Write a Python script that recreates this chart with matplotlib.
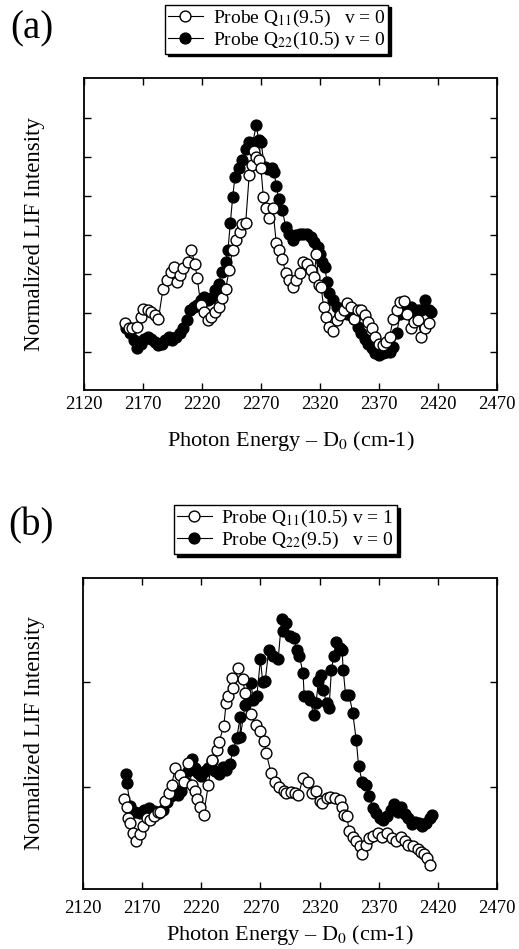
import matplotlib
matplotlib.use("Agg")
import matplotlib.pyplot as plt

plt.rcParams['font.family'] = ['Liberation Serif', 'DejaVu Serif']
plt.rcParams['mathtext.fontset'] = 'stix'

# panel (a): Q11(9.5) v=0 (open) and Q22(10.5) v=0 (filled)
a_open_x = [2155, 2158, 2161, 2165, 2168, 2170, 2174, 2177, 2180, 2183,
            2187, 2190, 2194, 2196, 2199, 2201, 2204, 2208, 2211, 2214,
            2216, 2219, 2222, 2225, 2228, 2231, 2234, 2237, 2240, 2243,
            2246, 2249, 2252, 2254, 2257, 2260, 2262, 2264, 2266, 2268,
            2270, 2272, 2274, 2277, 2280, 2283, 2285, 2288, 2291, 2294,
            2297, 2300, 2303, 2306, 2309, 2312, 2315, 2317, 2319, 2321,
            2323, 2325, 2328, 2331, 2334, 2337, 2340, 2343, 2346, 2349,
            2352, 2355, 2358, 2361, 2364, 2367, 2370, 2373, 2376, 2379,
            2382, 2385, 2388, 2391, 2394, 2397, 2400, 2403, 2406, 2409, 2412]
a_open_y = [1.73, 1.62, 1.60, 1.64, 1.88, 2.09, 2.07, 2.01, 1.94, 1.83,
            2.62, 2.84, 3.05, 3.18, 2.79, 2.97, 3.14, 3.31, 3.61, 3.26,
            2.88, 2.20, 2.03, 1.81, 1.90, 2.03, 2.15, 2.37, 2.60, 3.09,
            3.62, 3.86, 4.08, 4.27, 4.29, 5.53, 5.79, 6.15, 6.00, 5.92,
            5.70, 4.97, 4.68, 4.42, 4.68, 3.78, 3.61, 3.39, 3.01, 2.84,
            2.65, 2.84, 3.01, 3.31, 3.26, 3.09, 2.92, 3.52, 2.71, 2.67,
            2.15, 1.90, 1.64, 1.54, 1.81, 1.94, 2.07, 2.24, 2.15, 1.85,
            2.07, 2.07, 1.94, 1.77, 1.60, 1.38, 1.21, 1.17, 1.26, 1.38,
            1.85, 2.07, 2.28, 2.31, 1.98, 1.60, 1.77, 1.81, 1.38, 1.60, 1.73]

a_fill_x = [2156, 2159, 2162, 2165, 2168, 2171, 2174, 2177, 2180, 2183,
            2186, 2189, 2192, 2195, 2198, 2201, 2204, 2207, 2210, 2213,
            2216, 2219, 2222, 2225, 2228, 2231, 2234, 2237, 2240, 2242,
            2244, 2246, 2248, 2251, 2254, 2257, 2260, 2263, 2266, 2268,
            2270, 2273, 2276, 2279, 2281, 2283, 2285, 2288, 2291, 2294,
            2297, 2300, 2303, 2306, 2309, 2312, 2315, 2318, 2320, 2322,
            2324, 2326, 2328, 2331, 2334, 2337, 2340, 2343, 2346, 2349,
            2352, 2355, 2358, 2361, 2364, 2367, 2370, 2373, 2376, 2379,
            2382, 2385, 2388, 2391, 2394, 2397, 2400, 2403, 2406, 2409,
            2412, 2414]
a_fill_y = [1.60, 1.47, 1.30, 1.09, 1.21, 1.34, 1.38, 1.34, 1.26, 1.17,
            1.21, 1.30, 1.38, 1.30, 1.38, 1.47, 1.60, 1.81, 2.07, 2.15,
            2.20, 2.32, 2.41, 2.32, 2.37, 2.58, 2.75, 3.05, 3.31, 3.61,
            4.29, 4.97, 5.49, 5.70, 5.91, 6.19, 6.38, 6.36, 6.81, 6.43,
            6.38, 5.74, 5.68, 5.70, 5.62, 5.25, 4.93, 4.63, 4.21, 4.03,
            3.86, 3.99, 4.03, 4.03, 4.02, 3.95, 3.82, 3.69, 3.52, 3.31,
            3.18, 2.79, 2.50, 2.32, 2.15, 1.98, 2.03, 1.98, 1.94, 1.85,
            1.64, 1.47, 1.34, 1.21, 1.09, 0.96, 0.91, 0.96, 1.00, 1.00,
            1.13, 1.47, 1.98, 2.07, 2.07, 2.15, 1.98, 2.07, 2.07, 2.32,
            2.07, 2.03]

# panel (b): Q11(10.5) v=1 (open) and Q22(9.5) v=0 (filled)
b_open_x = [2155, 2157, 2158, 2160, 2162, 2165, 2168, 2171, 2174, 2177,
            2180, 2183, 2185, 2189, 2193, 2195, 2198, 2202, 2205, 2209,
            2212, 2215, 2216, 2219, 2222, 2226, 2229, 2233, 2235, 2239,
            2241, 2243, 2246, 2247, 2251, 2255, 2257, 2262, 2266, 2270,
            2273, 2275, 2279, 2282, 2286, 2290, 2292, 2296, 2299, 2302,
            2306, 2310, 2314, 2317, 2320, 2322, 2326, 2329, 2333, 2337,
            2339, 2341, 2343, 2345, 2348, 2351, 2354, 2356, 2359, 2362,
            2365, 2369, 2373, 2377, 2381, 2385, 2389, 2392, 2395, 2399,
            2403, 2406, 2408, 2411, 2413]
b_open_y = [0.88, 0.81, 0.70, 0.65, 0.56, 0.48, 0.55, 0.62, 0.70, 0.68,
            0.72, 0.76, 0.76, 0.86, 0.94, 1.02, 1.18, 1.11, 1.05, 1.23,
            1.02, 0.96, 0.88, 0.81, 0.73, 1.02, 1.26, 1.35, 1.43, 1.58,
            1.80, 1.87, 2.04, 1.95, 2.14, 2.03, 1.90, 1.70, 1.59, 1.53,
            1.44, 1.32, 1.13, 1.05, 1.00, 0.96, 0.94, 0.95, 0.94, 0.92,
            1.08, 1.05, 0.94, 0.96, 0.86, 0.84, 0.89, 0.90, 0.89, 0.87,
            0.81, 0.73, 0.72, 0.58, 0.52, 0.48, 0.43, 0.36, 0.44, 0.51,
            0.53, 0.56, 0.52, 0.56, 0.51, 0.48, 0.52, 0.48, 0.44, 0.43,
            0.40, 0.37, 0.36, 0.32, 0.25]

b_fill_x = [2156, 2157, 2160, 2164, 2168, 2172, 2176, 2180, 2184, 2188,
            2191, 2194, 2197, 2200, 2203, 2206, 2209, 2212, 2215, 2217,
            2220, 2223, 2226, 2229, 2232, 2235, 2238, 2241, 2244, 2247,
            2250, 2253, 2253, 2257, 2260, 2262, 2264, 2267, 2270, 2272,
            2274, 2277, 2281, 2285, 2288, 2289, 2292, 2295, 2298, 2301,
            2303, 2306, 2307, 2310, 2312, 2315, 2317, 2319, 2321, 2323,
            2326, 2328, 2330, 2332, 2334, 2337, 2339, 2340, 2342, 2345,
            2348, 2351, 2353, 2356, 2359, 2362, 2365, 2368, 2371, 2374,
            2377, 2380, 2383, 2386, 2389, 2392, 2395, 2398, 2401, 2404,
            2407, 2410, 2413, 2415]
b_fill_y = [1.12, 1.04, 0.82, 0.76, 0.75, 0.78, 0.80, 0.77, 0.75, 0.78,
            0.85, 0.91, 0.98, 0.92, 0.96, 1.05, 1.15, 1.27, 1.18, 1.13,
            1.10, 1.15, 1.18, 1.25, 1.15, 1.12, 1.19, 1.16, 1.22, 1.35,
            1.47, 1.67, 1.48, 1.78, 1.83, 1.99, 1.83, 1.87, 2.22, 2.00,
            2.01, 2.31, 2.25, 2.22, 2.61, 2.49, 2.57, 2.44, 2.43, 2.31,
            2.25, 2.09, 1.87, 1.87, 1.83, 1.69, 1.80, 2.01, 2.07, 1.93,
            1.80, 1.75, 2.12, 2.25, 2.39, 2.33, 2.31, 2.12, 1.88, 1.88,
            1.71, 1.45, 1.20, 1.05, 1.02, 0.91, 0.80, 0.75, 0.70, 0.68,
            0.72, 0.78, 0.83, 0.76, 0.81, 0.74, 0.70, 0.64, 0.66, 0.65,
            0.62, 0.65, 0.70, 0.73]

xticks = [2120, 2170, 2220, 2270, 2320, 2370, 2420, 2470]
a_labels = ['Probe Q$_{11}$(9.5)   v = 0', 'Probe Q$_{22}$(10.5) v = 0']
b_labels = ['Probe Q$_{11}$(10.5) v = 1', 'Probe Q$_{22}$(9.5)   v = 0']

fig = plt.figure(figsize=(5.19, 9.49), dpi=100)
ax1 = fig.add_axes([0.1618, 0.5890, 0.7958, 0.3288])
ax2 = fig.add_axes([0.1599, 0.0632, 0.7977, 0.3277])


def draw(ax, ox, oy, fx, fy, labels, ylim, yticks, pad, ylab_x, xlab_y, legend_xy):
    hf, = ax.plot(fx, fy, '-o', color='black', lw=0.8, ms=7.8,
                  mfc='black', mec='black', mew=1.0, zorder=2)
    ho, = ax.plot(ox, oy, '-o', color='black', lw=0.8, ms=7.8,
                  mfc='white', mec='black', mew=1.0, zorder=3)
    ax.set_xlim(2120, 2470)
    ax.set_ylim(*ylim)
    ax.set_xticks(xticks)
    ax.set_yticks(yticks)
    ax.set_yticklabels([])
    ax.tick_params(direction='in', top=True, right=True, length=5,
                   width=1.0, labelsize=13.5, pad=pad)
    for s in ax.spines.values():
        s.set_linewidth(1.3)
    ax.set_xlabel('Photon Energy – D$_0$ (cm-1)', fontsize=16)
    ax.xaxis.set_label_coords(0.5, xlab_y)
    ax.set_ylabel('Normalized LIF Intensity', fontsize=16.5)
    ax.yaxis.set_label_coords(ylab_x, 0.5)
    leg = ax.legend([ho, hf], labels, loc='center',
                    bbox_to_anchor=legend_xy, bbox_transform=fig.transFigure,
                    fontsize=14, frameon=True, fancybox=False,
                    shadow={'ox': 2, 'oy': -2, 'facecolor': 'black',
                            'edgecolor': 'black', 'alpha': 1},
                    edgecolor='black', framealpha=1, handlelength=1.8,
                    handletextpad=0.5, borderpad=0.15, labelspacing=0.05,
                    borderaxespad=0)
    leg.get_frame().set_linewidth(1.0)


draw(ax1, a_open_x, a_open_y, a_fill_x, a_fill_y, a_labels,
     (0.02, 8.02), [1, 2, 3, 4, 5, 6, 7], 4, -0.095, -0.125, (0.533, 0.9694))
draw(ax2, b_open_x, b_open_y, b_fill_x, b_fill_y, b_labels,
     (0.02, 3.0), [1, 2], 8, -0.092, -0.108, (0.550, 0.442))

fig.text(0.019, 0.9694, '(a)', fontsize=28, va='center', ha='left')
fig.text(0.015, 0.4457, '(b)', fontsize=28, va='center', ha='left')

fig.savefig('out.png', dpi=100)
